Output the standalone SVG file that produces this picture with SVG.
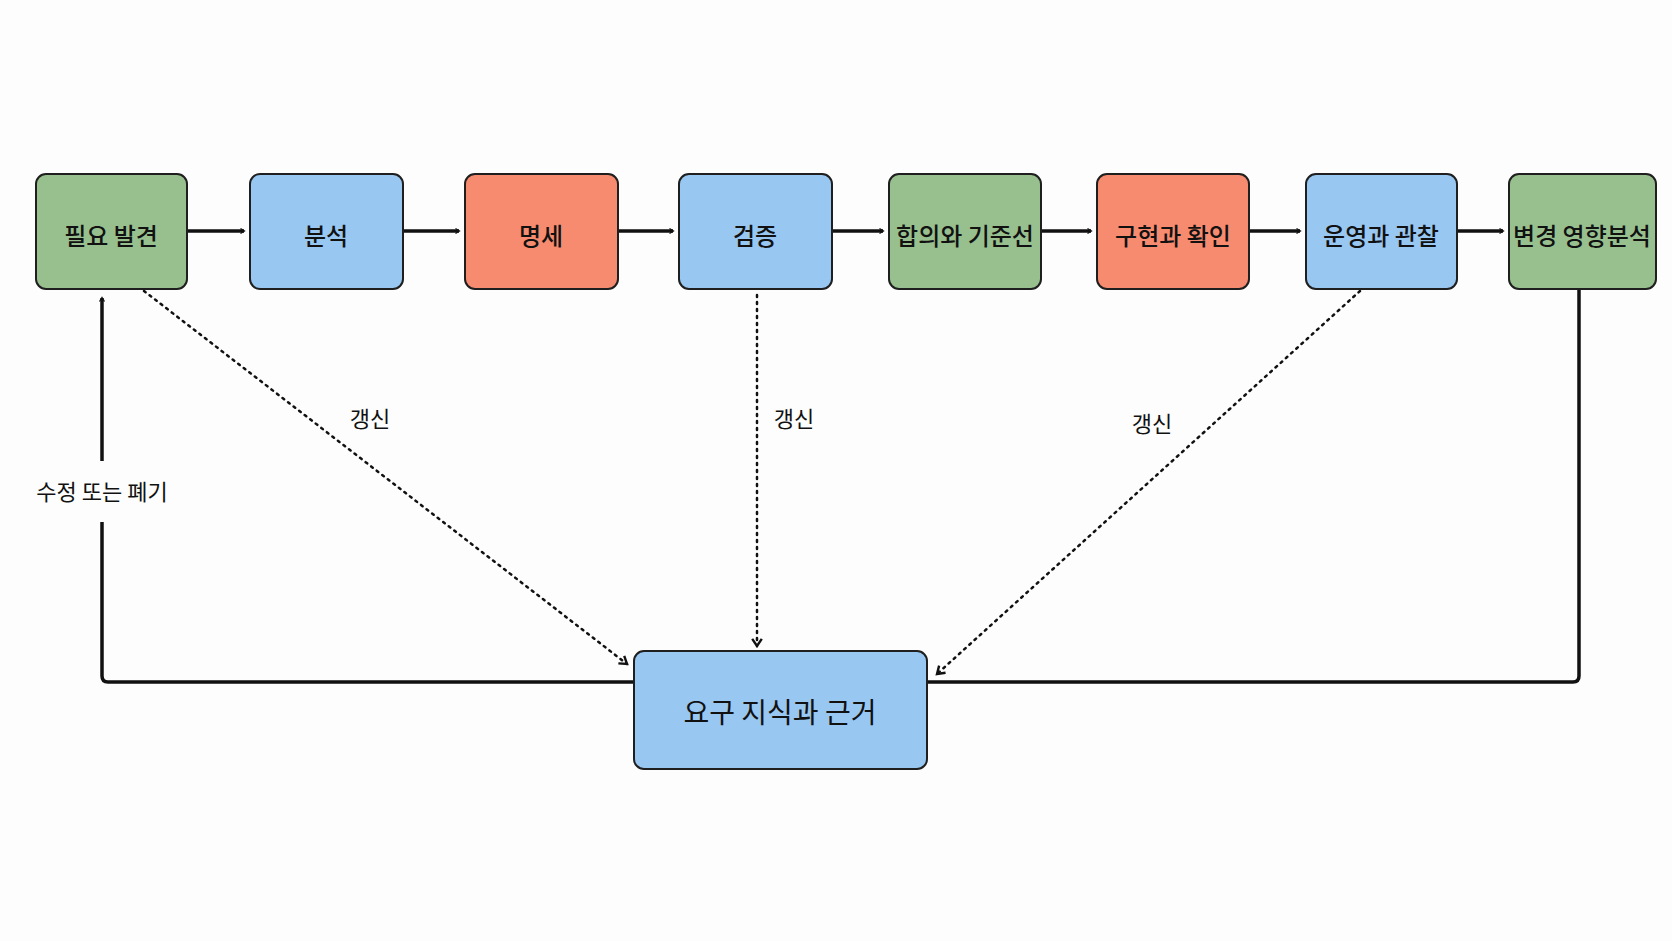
<svg xmlns="http://www.w3.org/2000/svg" width="1672" height="941" viewBox="0 0 1672 941">
<style>
.n{stroke:#1f1f1f;stroke-width:2}
.g{fill:#98c08f}.b{fill:#98c7f1}.o{fill:#f78b6f}
text{font-family:"Noto Sans CJK KR","Noto Sans",sans-serif;fill:#111;text-anchor:middle;dominant-baseline:central}
.t{font-size:24px;font-weight:500}
.l{font-size:22px}
.s{stroke:#111;stroke-width:3.5;fill:none}
.d{stroke:#111;stroke-width:2.5;fill:none;stroke-dasharray:2 5;stroke-linecap:round}
</style>
<defs>
<marker id="a" viewBox="0 0 10 10" refX="8" refY="5" markerWidth="5" markerHeight="5" orient="auto" markerUnits="userSpaceOnUse" style="overflow:visible"><path d="M1,0 L9,5 L1,10" fill="none" stroke="#111" stroke-width="2.5"/></marker>
<marker id="a2" viewBox="0 0 10 10" refX="8" refY="5" markerWidth="12" markerHeight="12" orient="auto" markerUnits="userSpaceOnUse"><path d="M2,1 L8,5 L2,9" fill="none" stroke="#111" stroke-width="2"/></marker>
</defs>
<rect width="1672" height="941" fill="#fdfdfd"/>
<g id="connectors">
<path class="s" d="M187,231 H244" marker-end="url(#a)"/>
<path class="s" d="M403,231 H459" marker-end="url(#a)"/>
<path class="s" d="M618,231 H673" marker-end="url(#a)"/>
<path class="s" d="M832,231 H883" marker-end="url(#a)"/>
<path class="s" d="M1041,231 H1091" marker-end="url(#a)"/>
<path class="s" d="M1249,231 H1300" marker-end="url(#a)"/>
<path class="s" d="M1457,231 H1503" marker-end="url(#a)"/>
<path class="s" d="M634,682 H108 Q102,682 102,676 V522"/>
<path class="s" d="M102,461 V298" marker-end="url(#a)"/>
<text class="l" x="102" y="490">수정 또는 폐기</text>
<path class="s" d="M1579,289 V676 Q1579,682 1573,682 H927"/>
<path class="d" d="M144,291 L627,664" marker-end="url(#a2)"/>
<path class="d" d="M757,295 V646" marker-end="url(#a2)"/>
<path class="d" d="M1360,291 L937,674" marker-end="url(#a2)"/>
<text class="l" x="370" y="417">갱신</text>
<text class="l" x="794" y="417">갱신</text>
<text class="l" x="1152" y="422">갱신</text>
</g>
<g id="n1"><rect class="n g" x="36" y="174" width="151" height="115" rx="10"/><text class="t" x="111" y="234">필요 발견</text></g>
<g id="n2"><rect class="n b" x="250" y="174" width="153" height="115" rx="10"/><text class="t" x="326" y="234">분석</text></g>
<g id="n3"><rect class="n o" x="465" y="174" width="153" height="115" rx="10"/><text class="t" x="541" y="234">명세</text></g>
<g id="n4"><rect class="n b" x="679" y="174" width="153" height="115" rx="10"/><text class="t" x="755" y="234">검증</text></g>
<g id="n5"><rect class="n g" x="889" y="174" width="152" height="115" rx="10"/><text class="t" x="965" y="234">합의와 기준선</text></g>
<g id="n6"><rect class="n o" x="1097" y="174" width="152" height="115" rx="10"/><text class="t" x="1173" y="234">구현과 확인</text></g>
<g id="n7"><rect class="n b" x="1306" y="174" width="151" height="115" rx="10"/><text class="t" x="1381" y="234">운영과 관찰</text></g>
<g id="n8"><rect class="n g" x="1509" y="174" width="147" height="115" rx="10"/><text class="t" x="1582" y="234">변경 영향분석</text></g>
<g id="n9"><rect class="n b" x="634" y="651" width="293" height="118" rx="10"/><text x="780" y="711" style="font-size:28px">요구 지식과 근거</text></g>
</svg>
